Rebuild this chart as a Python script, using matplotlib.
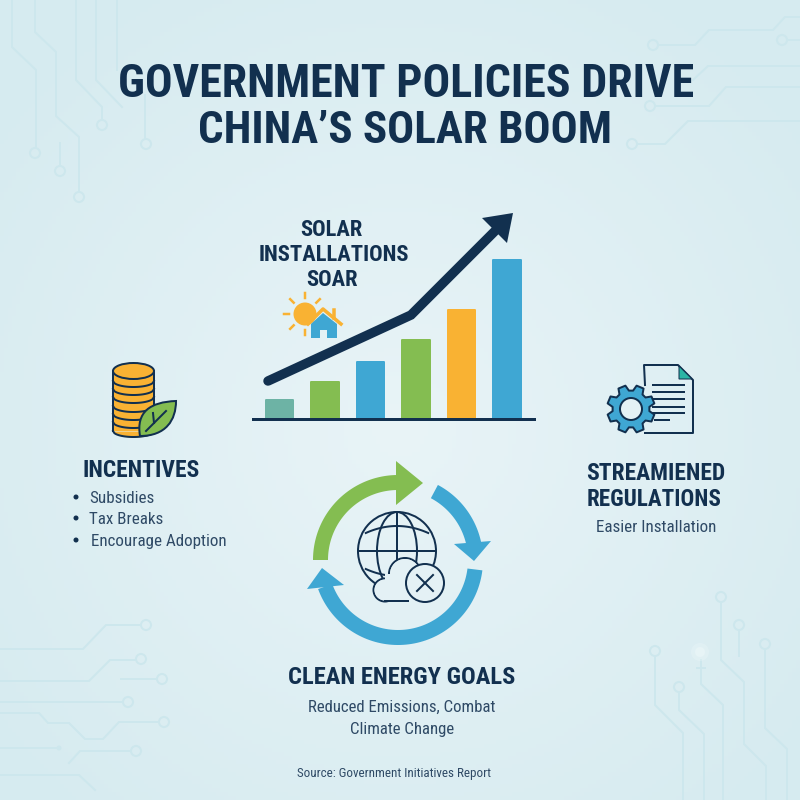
import numpy as np
import matplotlib
matplotlib.use("Agg")
import matplotlib.pyplot as plt
from matplotlib import font_manager
from matplotlib.patches import Circle, Ellipse, PathPatch, Polygon, Rectangle
from matplotlib.path import Path

NAVY = "#12304f"
SLATE = "#2f4a66"
GREEN = "#84bd51"
BLUE = "#3fa7d3"
ORANGE = "#f9b233"
TRACE = "#cde7ed"
BG = "#e4f1f5"

# chart data
bar_values = [19, 37, 57, 79, 109, 159]
bar_colors = ["#6db3a5", GREEN, BLUE, GREEN, ORANGE, BLUE]
trend_x = [268, 411, 499]
trend_y = [381, 315, 227]

title_lines = ["GOVERNMENT POLICIES DRIVE", "CHINA\u2019S SOLAR BOOM"]
chart_lines = ["SOLAR", "INSTALLATIONS", "SOAR"]
incentive_items = ["Subsidies", "Tax Breaks", "Encourage Adoption"]
goal_lines = ["Reduced Emissions, Combat", "Climate Change"]
source_text = "Source: Government Initiatives Report"

# background circuit traces, open end first
traces = [
    [(12, 0), (12, 47), (36, 70), (36, 148)],
    [(35, 0), (35, 32), (56, 52), (56, 116), (79, 137), (79, 192)],
    [(76, 0), (76, 80), (102, 107), (102, 120)],
    [(96, 0), (96, 80), (122, 107)],
    [(117, 0), (117, 70)],
    [(145, 95), (145, 139)],
    [(60, 143), (60, 166)],
    [(800, 17), (785, 17), (773, 30), (709, 30), (695, 45), (658, 45)],
    [(800, 40), (787, 40)],
    [(693, 80), (708, 66), (800, 66)],
    [(800, 87), (726, 87), (709, 106), (655, 106)],
    [(800, 121), (688, 121), (665, 144), (637, 144)],
    [(0, 649), (83, 649), (106, 625), (141, 625)],
    [(0, 681), (89, 681), (110, 660), (136, 660)],
    [(121, 679), (157, 679)],
    [(0, 702), (123, 702)],
    [(0, 713), (39, 713), (48, 723), (69, 723), (85, 739), (103, 739), (119, 722), (159, 722)],
    [(0, 748), (59, 748)],
    [(69, 763), (80, 751), (131, 751)],
    [(0, 775), (79, 775), (95, 790)],
    [(721, 602), (721, 660), (744, 682), (744, 744), (766, 766), (766, 800)],
    [(739, 630), (739, 656)],
    [(765, 649), (765, 728), (787, 749), (787, 800)],
    [(655, 656), (655, 705), (683, 733), (683, 800)],
    [(679, 692), (679, 710), (704, 734), (704, 800)],
    [(701, 660), (701, 684), (723, 705), (723, 800)],
    [(697, 668), (705, 668)],
]
trace_nodes = [
    (35, 153), (79, 197), (102, 125), (146, 144), (60, 171),
    (653, 45), (782, 40), (650, 106), (632, 144),
    (146, 625), (141, 659), (162, 679), (128, 702), (164, 722), (136, 751),
    (721, 597), (739, 625), (765, 644), (655, 651), (679, 687),
]


def pick_font():
    names = set(f.name for f in font_manager.fontManager.ttflist)
    for name in ["Roboto Condensed", "Liberation Sans Narrow", "Roboto"]:
        if name in names:
            return name
    return "DejaVu Sans"


FONT = pick_font()


def px(width):
    # pixel widths to points at dpi 100
    return width * 0.72


def label(ax, x, y, text, size, weight="normal", color=NAVY, ha="center"):
    ax.text(x, y, text, fontsize=px(size), fontweight=weight, color=color,
            ha=ha, va="baseline", family=FONT, zorder=20)


def draw_background(ax):
    yy, xx = np.mgrid[0:800:200j, 0:800:200j]
    dist = np.hypot(xx - 400, yy - 430) / 520
    dist = np.clip(dist, 0, 1)[..., None]
    light = np.array([233, 244, 247]) / 255
    dark = np.array([214, 235, 240]) / 255
    ax.imshow(light + (dark - light) * dist, extent=(0, 800, 800, 0), aspect="auto", zorder=0)
    for trace in traces:
        xs, ys = zip(*trace)
        ax.plot(xs, ys, color=TRACE, lw=px(2), zorder=1, solid_joinstyle="miter")
    for x, y in trace_nodes:
        ax.add_patch(Circle((x, y), 5, fc="none", ec=TRACE, lw=px(2), zorder=1))
    ax.add_patch(Circle((59, 748), 2.5, fc=TRACE, ec="none", zorder=1))
    ax.add_patch(Circle((700, 652), 9, fc="#eef8fa", ec="none", alpha=0.3, zorder=1))
    ax.add_patch(Circle((700, 652), 5, fc="#eef8fa", ec="none", alpha=0.5, zorder=1))


def draw_bars(fig):
    # same pixel scale as the page, the axes only holds the bars and baseline
    chart = fig.add_axes([253 / 800, (800 - 419) / 800, 281 / 800, 219 / 800])
    chart.patch.set_alpha(0)
    positions = np.arange(len(bar_values))
    chart.bar(positions, bar_values, width=0.61, color=bar_colors, edgecolor=bar_colors,
              linewidth=px(2), joinstyle="round")
    chart.set_xlim(-0.582, 5.593)
    chart.set_ylim(0, 219)
    chart.set_xticks([])
    chart.set_yticks([])
    for side in ["top", "left", "right"]:
        chart.spines[side].set_visible(False)
    chart.spines["bottom"].set_color(NAVY)
    chart.spines["bottom"].set_linewidth(px(3))


def draw_trend(ax):
    ax.plot(trend_x, trend_y, color=NAVY, lw=px(9.5), solid_capstyle="round",
            solid_joinstyle="miter", zorder=6)
    ax.add_patch(Polygon([(513, 213), (482, 218), (507, 243)], closed=True, fc=NAVY, ec="none", zorder=6))


def draw_sun_house(ax):
    ax.add_patch(Circle((305, 314), 11.5, fc=ORANGE, ec="none", zorder=5))
    for angle in [90, 135, 180, 225, 270, 45]:
        a = np.radians(angle)
        ax.plot([305 + 16 * np.cos(a), 305 + 21 * np.cos(a)],
                [314 - 16 * np.sin(a), 314 - 21 * np.sin(a)],
                color=ORANGE, lw=px(2.5), zorder=5)
    ax.plot([308, 323, 341], [324, 309, 324], color=ORANGE, lw=px(3.5), zorder=6)
    ax.plot([334, 334], [310, 318], color=ORANGE, lw=px(3.5), zorder=6)
    ax.add_patch(Polygon([(311, 338), (311, 324), (323, 313), (337, 324), (337, 338), (327, 338),
                          (327, 330), (320, 330), (320, 338)], closed=True, fc=BLUE, ec="none", zorder=7))


def draw_coins(ax):
    cx, rx, ry = 133.5, 20.5, 6
    xs = np.linspace(cx - rx, cx + rx, 30)
    curve = np.sqrt(np.maximum(0, 1 - ((xs - cx) / rx) ** 2))
    ax.add_patch(Rectangle((cx - rx, 371), 2 * rx, 60, fc=ORANGE, ec="none", zorder=5))
    ax.fill_between(xs, 431, 431 + ry * curve, color=ORANGE, lw=0, zorder=5)
    ax.plot(xs, 431 + ry * curve, color=NAVY, lw=px(2), zorder=6)
    for y in [387, 395, 403, 412, 420, 428]:
        ax.plot(xs, y - ry + ry * curve, color=NAVY, lw=px(2), zorder=6)
    ax.add_patch(Ellipse((cx, 371), 2 * rx, 16, fc=ORANGE, ec=NAVY, lw=px(2), zorder=6))
    ax.plot([cx - rx, cx - rx], [371, 431], color=NAVY, lw=px(2), zorder=6)
    ax.plot([cx + rx, cx + rx], [371, 410], color=NAVY, lw=px(2), zorder=6)
    # leaf
    verts = [(140, 436), (136, 412), (150, 402), (176, 401), (176, 420), (166, 436), (140, 436)]
    codes = [Path.MOVETO, Path.CURVE4, Path.CURVE4, Path.CURVE4, Path.CURVE4, Path.CURVE4, Path.CURVE4]
    ax.add_patch(PathPatch(Path(verts, codes), fc=GREEN, ec=NAVY, lw=px(2), zorder=7))
    ax.plot([146, 166], [431, 411], color=NAVY, lw=px(2), zorder=8)
    ax.plot([154, 153], [423, 413], color=NAVY, lw=px(2), zorder=8)


def draw_gear_doc(ax):
    doc = [(645, 385), (644, 365), (678, 365), (693, 380), (693, 433), (645, 433)]
    ax.plot(*zip(*doc), color=NAVY, lw=px(2), zorder=5)
    ax.add_patch(Polygon([(679, 366), (692, 379), (679, 379)], closed=True, fc="#2bb5a5", ec=NAVY, lw=px(1), zorder=5))
    for y in [385, 392, 399, 407, 413]:
        ax.plot([653, 684], [y, y], color=NAVY, lw=px(2), zorder=5)
    ax.plot([655, 669], [420, 420], color=NAVY, lw=px(2), zorder=5)

    cx, cy = 631, 409
    pts = []
    for i in range(8):
        mid = np.radians(i * 45 + 22.5)
        for off, r in [(-16, 18.5), (-9, 24), (9, 24), (16, 18.5)]:
            a = mid + np.radians(off)
            pts.append((cx + r * np.cos(a), cy + r * np.sin(a)))
    ax.add_patch(Polygon(pts, closed=True, fc=BLUE, ec=NAVY, lw=px(2), zorder=6, joinstyle="round"))
    ax.add_patch(Circle((cx, cy), 11, fc=BG, ec=NAVY, lw=px(2), zorder=7))


def arc_arrow(ax, start, end, color, head):
    cx, cy = 398, 560
    a = np.radians(np.linspace(start, end, 80))
    outer = [(cx + 85 * np.cos(t), cy - 85 * np.sin(t)) for t in a]
    inner = [(cx + 70 * np.cos(t), cy - 70 * np.sin(t)) for t in a[::-1]]
    ax.add_patch(Polygon(outer + inner, closed=True, fc=color, ec="none", zorder=5))
    ax.add_patch(Polygon(head, closed=True, fc=color, ec="none", zorder=5))


def draw_cycle(ax):
    arc_arrow(ax, 180, 90, GREEN, [(396, 461), (423, 483), (396, 505)])
    arc_arrow(ax, 62, 12, BLUE, [(454, 544), (491, 541), (474, 561)])
    arc_arrow(ax, -7, -160, BLUE, [(307, 589), (344, 585), (322, 568)])

    gx, gy, r = 397, 551, 39
    lw = px(2)
    ax.add_patch(Circle((gx, gy), r, fc="none", ec=NAVY, lw=lw, zorder=6))
    ax.add_patch(Ellipse((gx, gy), 40, 2 * r, fc="none", ec=NAVY, lw=lw, zorder=6))
    ax.plot([gx, gx], [gy - r, gy + r], color=NAVY, lw=lw, zorder=6)
    ax.plot([gx - r, gx + r], [gy, gy], color=NAVY, lw=lw, zorder=6)
    xs = np.linspace(-r * 0.8, r * 0.8, 40)
    ax.plot(gx + xs, gy - 25 + 7 * (xs / (r * 0.8)) ** 2, color=NAVY, lw=lw, zorder=6)
    ax.plot(gx + xs, gy + 25 - 7 * (xs / (r * 0.8)) ** 2, color=NAVY, lw=lw, zorder=6)

    bumps = [((385, 590), 11.5), ((405, 574), 16)]
    for centre, rad in bumps:
        ax.add_patch(Circle(centre, rad, fc=BG, ec=NAVY, lw=lw, zorder=7))
    for centre, rad in bumps:
        ax.add_patch(Circle(centre, rad - 1, fc=BG, ec="none", zorder=7))
    ax.add_patch(Rectangle((385, 574), 36, 26.5, fc=BG, ec="none", zorder=7))
    ax.plot([385, 408], [601, 601], color=NAVY, lw=lw, zorder=8)
    ax.add_patch(Circle((425, 583), 19, fc=BG, ec=NAVY, lw=lw, zorder=8))
    ax.plot([417, 433], [575, 591], color=NAVY, lw=lw, zorder=9)
    ax.plot([433, 417], [575, 591], color=NAVY, lw=lw, zorder=9)


def draw_text(ax):
    label(ax, 406, 97, title_lines[0], 46, weight="bold")
    label(ax, 405, 143, title_lines[1], 45, weight="bold")
    for y, text, x in zip([236, 261, 286], chart_lines, [331, 334, 332]):
        label(ax, x, y, text, 22.5, weight="bold")
    label(ax, 141, 477, "INCENTIVES", 23.5, weight="bold")
    for y, text, x in zip([503, 524, 546], incentive_items, [89, 89, 91]):
        label(ax, x, y, text, 17, color=SLATE, ha="left")
        ax.add_patch(Circle((76, y - 6), 2.5, fc=NAVY, ec="none", zorder=20))
    label(ax, 655.5, 480, "STREAMIENED", 23.5, weight="bold")
    label(ax, 654, 506, "REGULATIONS", 23, weight="bold")
    label(ax, 656, 532, "Easier Installation", 17, color=SLATE)
    label(ax, 402, 684, "CLEAN ENERGY GOALS", 24.5, weight="bold")
    label(ax, 402, 712, goal_lines[0], 16.7, color=SLATE)
    label(ax, 402, 734, goal_lines[1], 16.7, color=SLATE)
    label(ax, 394, 777, source_text, 13, color=SLATE)


def main():
    fig = plt.figure(figsize=(8, 8), dpi=100)
    ax = fig.add_axes([0, 0, 1, 1])
    ax.set_xlim(0, 800)
    ax.set_ylim(800, 0)
    ax.axis("off")
    draw_background(ax)
    draw_sun_house(ax)
    draw_coins(ax)
    draw_gear_doc(ax)
    draw_cycle(ax)
    draw_text(ax)
    draw_bars(fig)
    # trend line sits above the bars, so it gets its own overlay
    top = fig.add_axes([0, 0, 1, 1])
    top.set_xlim(0, 800)
    top.set_ylim(800, 0)
    top.axis("off")
    draw_trend(top)
    fig.savefig("out.png", dpi=100)


if __name__ == "__main__":
    main()
